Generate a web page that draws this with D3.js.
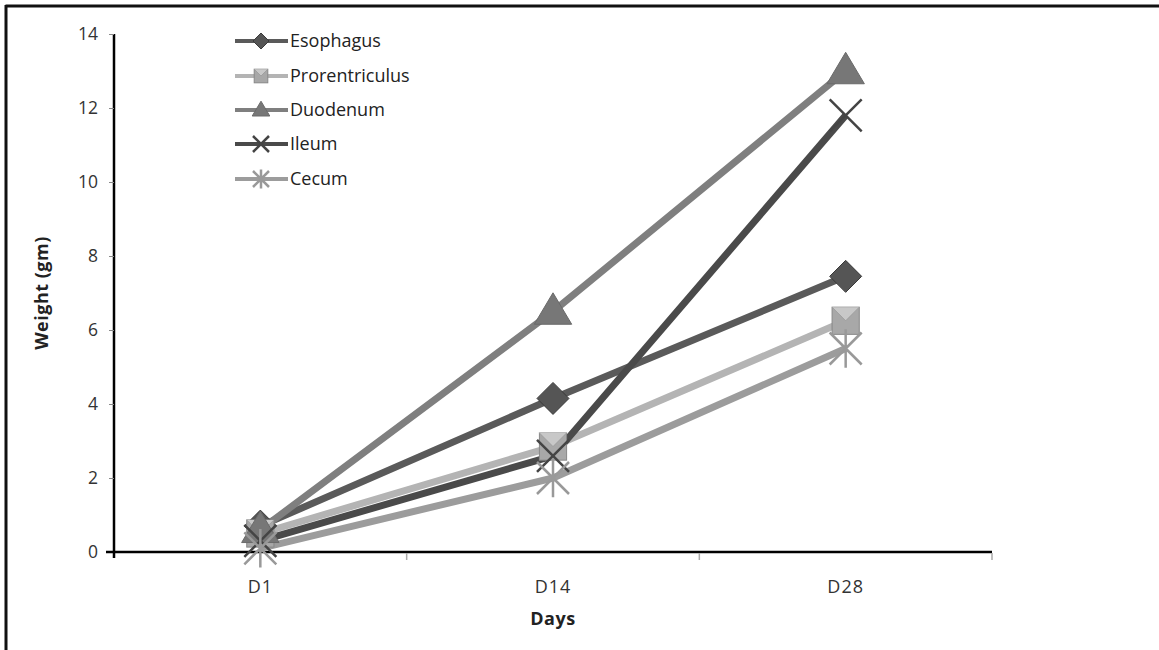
<!DOCTYPE html>
<html><head><meta charset="utf-8">
<script src="https://cdn.jsdelivr.net/npm/d3@7"></script>
<style>body{margin:0;background:#fff}svg{display:block}text{font-family:"Open Sans",Lato,sans-serif}</style>
</head><body><svg id="c" width="1159" height="650"></svg>
<script>
const categories = ["D1","D14","D28"];
const seriesNames = ["Esophagus","Prorentriculus","Duodenum","Ileum","Cecum"];
const esophagus = [0.7, 4.15, 7.45];
const prorentriculus = [0.5, 2.85, 6.25];
const duodenum = [0.6, 6.5, 13.0];
const ileum = [0.3, 2.6, 11.8];
const cecum = [0.1, 2.0, 5.5];
const yTicks = [0,2,4,6,8,10,12,14];
const seriesValues = [esophagus, prorentriculus, duodenum, ileum, cecum];
const lineColors = ["#5a5a5a","#b4b4b4","#7f7f7f","#4a4a4a","#9c9c9c"];
const markerColors = ["#555","#a8a8a8","#777","#444","#999"];
const markerTypes = ["diamond","square","triangle","x","star"];

const svg = d3.select("#c");
// frame
svg.append("line").attr("x1",5.5).attr("x2",1159).attr("y1",6).attr("y2",6).attr("stroke","#111").attr("stroke-width",3);
svg.append("line").attr("x1",6).attr("x2",6).attr("y1",5).attr("y2",650).attr("stroke","#111").attr("stroke-width",3);

const x0 = 114, x1 = 992, yTop = 34, yBot = 552;
const x = d3.scaleBand().domain(categories).range([x0,x1]);
const y = d3.scaleLinear().domain([0,14]).range([yBot,yTop]);

// y axis
const ya = svg.append("g").attr("transform",`translate(${x0},0)`)
  .call(d3.axisLeft(y).tickValues(yTicks).tickSize(5).tickPadding(11));
ya.select(".domain").attr("stroke","#000").attr("stroke-width",2.5).attr("d",`M0,${yTop}V${yBot+6}`);
ya.selectAll(".tick line").attr("stroke","#888");
ya.selectAll("text").attr("font-size",17.5).attr("fill","#333");

// x axis
const xa = svg.append("g").attr("transform",`translate(0,${yBot})`)
  .call(d3.axisBottom(x).tickSize(0).tickPadding(28));
xa.select(".domain").attr("stroke","#000").attr("stroke-width",2.5).attr("d",`M${x0-8},0H${x1}`);
xa.selectAll("text").attr("font-size",18).attr("letter-spacing",1).attr("fill","#333");
// boundary ticks
categories.forEach(c=>{
  const bx = x(c)+x.bandwidth();
  svg.append("line").attr("x1",bx).attr("x2",bx).attr("y1",yBot+1).attr("y2",yBot+8).attr("stroke","#aaa").attr("stroke-width",1.5);
});

// axis titles
svg.append("text").attr("x",553).attr("y",625).attr("text-anchor","middle").attr("font-size",18).attr("letter-spacing",0.5).attr("font-weight","bold").attr("fill","#222").text("Days");
svg.append("text").attr("transform","translate(48,293) rotate(-90)").attr("text-anchor","middle").attr("font-size",18).attr("letter-spacing",0.5).attr("font-weight","bold").attr("fill","#222").text("Weight (gm)");

const cx = c => x(c)+x.bandwidth()/2;
const line = d3.line().x((d,i)=>cx(categories[i])).y(d=>y(d));

function marker(g, type, px, py, color, s){
  if(type==="diamond"){
    g.append("path").attr("d",`M${px},${py-s}L${px+s},${py}L${px},${py+s}L${px-s},${py}Z`).attr("fill",color).attr("stroke","#3a3a3a").attr("stroke-width",1);
  } else if(type==="square"){
    g.append("rect").attr("x",px-s*0.85).attr("y",py-s*0.85).attr("width",s*1.7).attr("height",s*1.7).attr("fill",color).attr("stroke","#888").attr("stroke-width",1);
    g.append("path").attr("d",`M${px-s*0.85},${py-s*0.85}L${px},${py}L${px+s*0.85},${py-s*0.85}`).attr("fill","#c8c8c8").attr("stroke","#999").attr("stroke-width",0.8);
  } else if(type==="triangle"){
    g.append("path").attr("d",`M${px},${py-s*1.1}L${px+s*1.1},${py+s*0.75}L${px-s*1.1},${py+s*0.75}Z`).attr("fill",color).attr("stroke","#6a6a6a").attr("stroke-width",1);
  } else if(type==="x"){
    g.append("path").attr("d",`M${px-s},${py-s}L${px+s},${py+s}M${px-s},${py+s}L${px+s},${py-s}`).attr("stroke",color).attr("stroke-width",2.5);
  } else if(type==="star"){
    g.append("path").attr("d",`M${px-s},${py-s}L${px+s},${py+s}M${px-s},${py+s}L${px+s},${py-s}M${px},${py-s*1.2}V${py+s*1.2}`).attr("stroke",color).attr("stroke-width",2.5);
  }
}

const msize = [16,16,17,16,16];
seriesValues.forEach((vals,si)=>{
  svg.append("path").datum(vals).attr("d",line).attr("fill","none").attr("stroke",lineColors[si]).attr("stroke-width",7).attr("stroke-linejoin","round");
});
seriesValues.forEach((vals,si)=>{
  const g = svg.append("g");
  vals.forEach((v,i)=>marker(g, markerTypes[si], cx(categories[i]), y(v), markerColors[si], msize[si]));
});

// legend
const lg = svg.append("g");
const legY = [41,76,110,144,179];
seriesNames.forEach((n,i)=>{
  const yy = legY[i];
  lg.append("line").attr("x1",235).attr("x2",288).attr("y1",yy).attr("y2",yy).attr("stroke",lineColors[i]).attr("stroke-width",4);
  marker(lg, markerTypes[i], 261, yy, markerColors[i], 8);
  lg.append("text").attr("x",290).attr("y",yy).attr("dy","0.36em").attr("font-size",18).attr("fill","#222").text(n);
});
</script></body></html>
